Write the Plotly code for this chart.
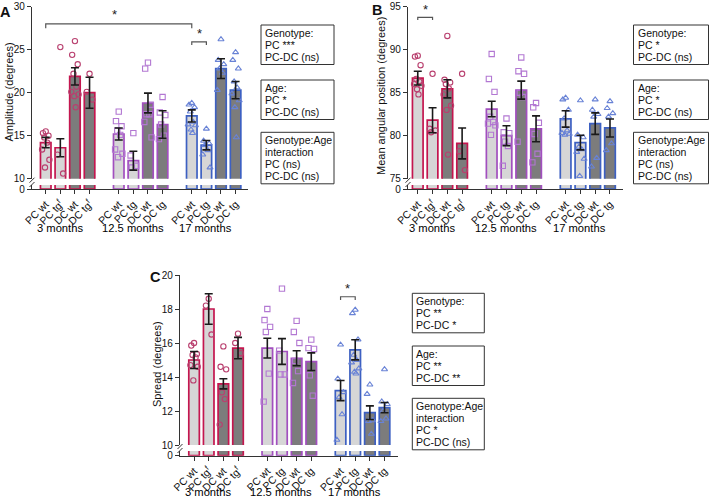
import plotly.graph_objects as go

W, H = 709, 498

# ---------------- data ----------------
groups = ["3 months", "12.5 months", "17 months"]
tick_text = ["PC wt", "PC tg<sup>f</sup>", "DC wt", "DC tg<sup>f</sup>",
             "PC wt", "PC tg", "DC wt", "DC tg",
             "PC wt", "PC tg", "DC wt", "DC tg"]
x_pos = [0, 1, 2, 3, 5, 6, 7, 8, 10, 11, 12, 13]

amp_mean = [14.2, 13.6, 21.9, 20.0, 15.2, 12.1, 18.8, 16.3, 17.3, 13.9, 22.8, 20.3]
amp_sem = [0.6, 1.05, 1.0, 1.8, 0.7, 1.1, 1.15, 1.6, 0.7, 0.55, 1.15, 1.0]
amp_pts = [
    [15.5, 15.3, 15.0, 14.8, 14.2, 13.4, 12.2, 11.3],
    [25.3, 12.8, 10.6],
    [26.0, 24.4, 23.3, 22.2, 20.7, 20.1, 19.8, 19.6, 18.3],
    [22.2, 20.1, 19.2],
    [17.8, 16.7, 16.1, 15.6, 15.1, 13.4, 12.9, 12.5],
    [15.3, 12.7, 11.5, 11.3, 9.4, 9.4],
    [23.5, 22.8, 18.6, 17.5, 17.5, 16.6, 14.8],
    [19.5, 17.7, 17.4, 16.3, 15.0, 14.6],
    [18.8, 18.6, 18.3, 17.8, 16.6, 16.3, 16.2, 15.7, 15.3],
    [15.8, 14.4, 14.1, 13.9, 13.3, 12.8, 11.3],
    [26.2, 23.8, 23.3, 22.8, 22.3, 20.3],
    [24.7, 23.8, 22.8, 21.3, 20.6, 19.9, 19.1, 18.3, 14.8],
]

ang_mean = [86.7, 81.8, 85.45, 79.1, 83.1, 80.0, 85.3, 80.8, 81.95, 79.2, 81.4, 80.9]
ang_sem = [0.8, 1.45, 1.05, 1.8, 0.9, 1.15, 1.05, 1.5, 0.95, 0.85, 1.25, 1.05]
ang_pts = [
    [89.3, 89.2, 88.2, 86.6, 86.3, 86.0, 85.8, 85.4, 84.8],
    [87.2, 80.8, 80.6, 80.4],
    [91.6, 86.5, 86.2, 86.0, 85.5, 84.8, 83.5, 83.0, 77.8],
    [87.2, 78.2, 76.0],
    [89.5, 86.6, 85.1, 82.2, 81.6, 81.4, 81.2, 80.1],
    [82.0, 80.4, 80.3, 79.3, 78.8, 76.5],
    [89.1, 87.5, 87.2, 85.0, 84.5, 79.3],
    [83.8, 83.3, 81.5, 80.2, 77.9, 76.9],
    [84.4, 84.2, 83.0, 82.0, 80.6, 80.3, 80.2, 80.1],
    [84.1, 80.1, 79.8, 78.7, 78.4, 78.1, 77.3, 75.3],
    [84.2, 83.0, 82.5, 82.2, 77.4, 76.4],
    [84.0, 83.2, 82.6, 82.2, 79.1, 78.3],
]

spr_mean = [15.0, 18.0, 13.6, 15.7, 15.7, 15.5, 15.1, 14.9, 13.2, 15.6, 11.9, 12.2]
spr_sem = [0.5, 0.9, 0.3, 0.63, 0.58, 0.76, 0.44, 0.52, 0.59, 0.59, 0.4, 0.3]
spr_pts = [
    [16.0, 15.85, 15.35, 15.3, 15.15, 14.7, 14.6, 13.8],
    [18.6, 18.2, 16.5],
    [15.8, 14.6, 14.45, 13.1, 12.7, 11.2],
    [16.55, 16.0, 15.4],
    [18.0, 17.35, 16.95, 16.65, 14.2, 12.55],
    [19.2, 15.55, 14.15, 14.15],
    [17.3, 16.65, 16.0, 14.95, 14.35, 13.65],
    [16.2, 15.7, 15.65, 14.1, 12.9],
    [15.9, 13.9, 13.1, 12.8, 11.8, 10.3],
    [17.95, 17.75, 16.2, 15.3, 15.0, 14.85, 14.5, 14.3, 14.2],
    [13.55, 13.0, 11.45, 11.4, 10.65, 9.65],
    [14.45, 12.55, 12.4, 12.0, 11.55, 11.4],
]

boxes_A = [["Genotype:", "PC ***", "PC-DC (ns)"],
           ["Age:", "PC *", "PC-DC (ns)"],
           ["Genotype:Age", "interaction", "PC (ns)", "PC-DC (ns)"]]
boxes_B = [["Genotype:", "PC *", "PC-DC (ns)"],
           ["Age:", "PC *", "PC-DC (ns)"],
           ["Genotype:Age", "interaction", "PC (ns)", "PC-DC (ns)"]]
boxes_C = [["Genotype:", "PC **", "PC-DC *"],
           ["Age:", "PC **", "PC-DC **"],
           ["Genotype:Age", "interaction", "PC *", "PC-DC (ns)"]]

# ---------------- style ----------------
FONT = "Liberation Sans, Arial, Helvetica, sans-serif"
grp_line = ["#c4164f", "#a24fbf", "#3d60c2"]
grp_mark = ["#b9406f", "#b277d2", "#6983d6"]
grp_sym = ["circle-open", "square-open", "triangle-up-open"]
fill_pc, fill_dc = "#d6d6d6", "#7c7c7c"
axis_col = "#333333"
jit = [0.0, -0.19, 0.19, -0.1, 0.1, -0.25, 0.25, -0.05, 0.05, -0.15, 0.15]


def fx(px):
    return px / W


def fy(py):
    return 1 - py / H


panels = [
    dict(label="A", mean=amp_mean, sem=amp_sem, pts=amp_pts, title="Amplitude (degrees)",
         xpx=(32, 248), xr=(-0.94, 13.85), up=(6.7, 178.7), lo=(185, 189), yr=(10, 30),
         yt=[10, 15, 20, 25, 30], xa="x", ya="y", yb="y2", ln="", la="", lb="2",
         lab_xy=(5, 12), title_xy=(8.5, 92), grp_y=228.5, boxes=boxes_A, box_x=261, box_w=73,
         box_top=[25, 80, 132.3],
         brackets=[(0, 10, 28.0, 27.5, 29.05, -0.3), (10, 11, 25.9, 25.55, 26.85, 0)]),
    dict(label="B", mean=ang_mean, sem=ang_sem, pts=ang_pts, title="Mean angular position (degrees)",
         xpx=(408, 623), xr=(-0.66, 13.88), up=(6.7, 178.7), lo=(185, 189), yr=(75, 95),
         yt=[75, 80, 85, 90, 95], xa="x2", ya="y3", yb="y4", ln="2", la="3", lb="4",
         lab_xy=(377, 10), title_xy=(381, 96), grp_y=228.5, boxes=boxes_B, box_x=633.5, box_w=75,
         box_top=[25, 80, 132.3],
         brackets=[(0, 1, 93.76, 93.45, 94.7, 0)]),
    dict(label="C", mean=spr_mean, sem=spr_sem, pts=spr_pts, title="Spread (degrees)",
         xpx=(180, 398), xr=(-0.96, 13.92), up=(275, 445), lo=(451, 455.7), yr=(10, 20),
         yt=[10, 12, 14, 16, 18, 20], xa="x3", ya="y5", yb="y6", ln="3", la="5", lb="6",
         lab_xy=(155, 277), title_xy=(157, 364), grp_y=491.5, boxes=boxes_C, box_x=412.3, box_w=72,
         box_top=[293.3, 346, 398.3],
         brackets=[(10, 11, 18.72, 18.53, 19.2, 0)]),
]

fig = go.Figure()
layout = dict(width=W, height=H, margin=dict(l=0, r=0, t=0, b=0, pad=0), autosize=False,
              paper_bgcolor="white", plot_bgcolor="white", showlegend=False,
              barmode="overlay", font=dict(family=FONT, size=10, color="#111"))
shapes, annos = [], []

fills = [fill_dc if (i % 4) >= 2 else fill_pc for i in range(12)]
lines = [grp_line[i // 4] for i in range(12)]


def note(text, x, y, xref="paper", yref="paper", xanchor="center", yanchor="middle", **kw):
    d = dict(text=text, xref=xref, yref=yref, x=x, y=y, xanchor=xanchor, yanchor=yanchor,
             showarrow=False)
    d.update(kw)
    annos.append(d)


for P in panels:
    # bars in upper and lower (broken) segments
    for yax in (P["ya"], P["yb"]):
        fig.add_trace(go.Bar(x=x_pos, y=P["mean"], width=0.72, xaxis=P["xa"], yaxis=yax,
                             marker=dict(color=fills, line=dict(color=lines, width=1.7)),
                             hoverinfo="skip"))
    # individual points
    for g in range(3):
        xs, ys = [], []
        for b in range(4):
            i = g * 4 + b
            for k, v in enumerate(P["pts"][i]):
                xs.append(x_pos[i] + jit[k % len(jit)])
                ys.append(v)
        fig.add_trace(go.Scatter(x=xs, y=ys, mode="markers", xaxis=P["xa"], yaxis=P["ya"],
                                 cliponaxis=False, hoverinfo="skip",
                                 marker=dict(symbol=grp_sym[g], size=5.3, color=grp_mark[g],
                                             line=dict(width=1.1))))
    # error bars (SEM)
    fig.add_trace(go.Scatter(x=x_pos, y=P["mean"], mode="markers", xaxis=P["xa"], yaxis=P["ya"],
                             cliponaxis=False, hoverinfo="skip",
                             marker=dict(size=1, color="rgba(0,0,0,0)"),
                             error_y=dict(type="data", array=P["sem"], color="#1a1a1a",
                                          thickness=1.6, width=4)))

    x0p, x1p = P["xpx"]
    common = dict(ticks="outside", ticklen=4, tickwidth=1, tickcolor=axis_col, showline=True,
                  linecolor=axis_col, linewidth=1.2, showgrid=False, zeroline=False,
                  automargin=False)
    layout["xaxis" + P["ln"]] = dict(
        domain=[fx(x0p), fx(x1p)], range=list(P["xr"]), anchor=P["yb"],
        tickvals=x_pos, ticktext=tick_text, tickangle=-45,
        tickfont=dict(size=10.5, color="#111"), **common)
    layout["yaxis" + P["la"]] = dict(
        domain=[fy(P["up"][1]), fy(P["up"][0])], range=list(P["yr"]), anchor=P["xa"],
        tickvals=P["yt"], tickfont=dict(size=10, color="#111"), **common)
    layout["yaxis" + P["lb"]] = dict(
        domain=[fy(P["lo"][1]), fy(P["lo"][0])], range=[0, 1], anchor=P["xa"],
        tickvals=[0], tickfont=dict(size=10, color="#111"), **common)

    # axis break marks
    ax = x0p
    gy0, gy1 = P["up"][1], P["lo"][0]
    for yy in (gy0 + 1.5, gy1 - 0.5):
        shapes.append(dict(type="line", xref="paper", yref="paper",
                           x0=fx(ax - 2.5), y0=fy(yy + 2.5), x1=fx(ax + 2.5), y1=fy(yy - 2.5),
                           line=dict(color=axis_col, width=1)))

    # panel label & axis title
    note("<b>%s</b>" % P["label"], fx(P["lab_xy"][0]), fy(P["lab_xy"][1]),
         font=dict(size=14.5, color="#111"))
    note(P["title"], fx(P["title_xy"][0]), fy(P["title_xy"][1]), textangle=-90,
         font=dict(size=11, color="#111"))
    # group labels
    for g, name in enumerate(groups):
        note(name, x_pos[g * 4] + 1.5 - 0.55, fy(P["grp_y"]), xref=P["xa"],
             font=dict(size=11.2, color="#000"))
    # significance brackets
    for (bx0, bx1, by, bdrop, sy, sdx) in P["brackets"]:
        shapes.append(dict(type="path", xref=P["xa"], yref=P["ya"],
                           path="M %s,%s L %s,%s L %s,%s L %s,%s" % (bx0, bdrop, bx0, by, bx1, by, bx1, bdrop),
                           line=dict(color="#555", width=1.2)))
        note("*", (bx0 + bx1) / 2 + sdx, sy, xref=P["xa"], yref=P["ya"],
             font=dict(size=13, color="#222"))
    # statistics boxes
    for lines_txt, top in zip(P["boxes"], P["box_top"]):
        n = len(lines_txt)
        bottom = top + 15.5 + 12 * (n - 1)
        shapes.append(dict(type="rect", xref="paper", yref="paper",
                           x0=fx(P["box_x"]), x1=fx(P["box_x"] + P["box_w"]),
                           y0=fy(bottom), y1=fy(top), line=dict(color="#333", width=1)))
        for j, t in enumerate(lines_txt):
            note(t, fx(P["box_x"] + 2), fy(top + 7.8 + 12 * j), xanchor="left",
                 font=dict(size=10.5, color="#111"))

layout["shapes"] = shapes
layout["annotations"] = annos
fig.update_layout(**layout)
fig.write_html("out.html")
